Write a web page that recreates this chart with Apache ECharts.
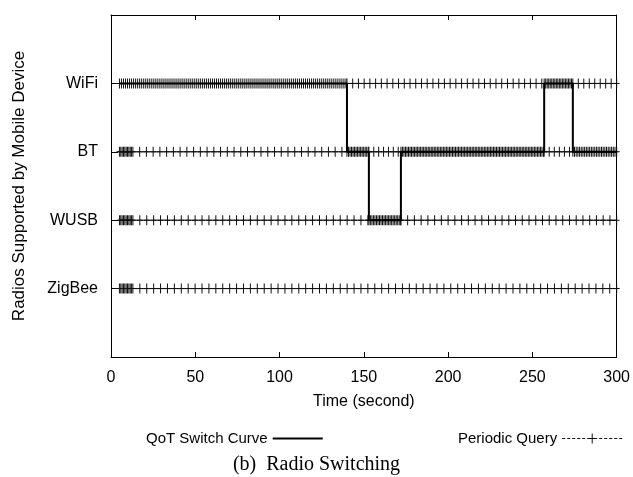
<!DOCTYPE html>
<html>
<head>
<meta charset="utf-8">
<script src="https://cdn.jsdelivr.net/npm/echarts@6/dist/echarts.min.js"></script>
<style>
  html, body { margin: 0; padding: 0; background: #fff; }
  #chart { width: 633px; height: 477px; }
</style>
</head>
<body>
<div id="chart"></div>
<script>
// Radio levels on the y axis (1 = ZigBee ... 4 = WiFi)
const radioLabels = ['', 'ZigBee', 'WUSB', 'BT', 'WiFi', ''];

// Time ticks along the x axis (seconds)
const timeTicks = [0, 50, 100, 150, 200, 250, 300];

// Radio chosen by the QoT switch: [time (s), level]; level holds until the next entry
const switchCurve = [
  [5, 4], [140, 3], [153, 2], [172, 3], [257, 4], [274, 3], [300, 3]
];

// Periodic query schedule of each radio: [from (s), to (s), query period (s)]
const zigbeeQueries = [[5, 13, 0.8], [13, 300.5, 4.1]];
const wusbQueries = [[5, 13, 0.8], [13, 153, 4.1], [153, 172, 0.9], [172, 300.5, 4.0]];
const btQueries = [[5, 13, 0.8], [13, 140, 4.0], [140, 153, 0.9], [153, 172, 2.9],
                   [172, 257, 0.9], [257, 274, 3.0], [274, 300.5, 1.0]];
const wifiQueries = [[5, 140, 1.2], [140, 257, 3.4], [257, 274, 0.9], [274, 300.5, 3.25]];

// Expand a query schedule into the query instants on one radio level
function queryPoints(schedule, level) {
  const pts = [];
  schedule.forEach(([from, to, step]) => {
    for (let i = 0; from + i * step < to; i++) {
      pts.push([Math.min(+(from + i * step).toFixed(2), 300), level]);
    }
  });
  return pts;
}

const plusMark = 'path://M0,4.5H6V5.5H0Z M2.5,0H3.5V10H2.5Z';
const dashedPlusIcon = 'path://M0,4.5h3v1h-3z M5,4.5h3v1h-3z M10,4.5h3v1h-3z M15,4.5h3v1h-3z ' +
  'M20,4.5h3v1h-3z M25,4.5h10v1h-10z M29.5,0h1v10h-1z M37,4.5h3v1h-3z M42,4.5h3v1h-3z ' +
  'M47,4.5h3v1h-3z M52,4.5h3v1h-3z M57,4.5h3v1h-3z';

const FONT = 'Liberation Sans, Arial, Helvetica, sans-serif';

function querySeries(schedule, level) {
  return {
    name: 'Periodic Query',
    type: 'line',
    data: queryPoints(schedule, level),
    symbol: plusMark,
    symbolSize: [6, 10],
    showAllSymbol: true,
    lineStyle: { color: '#000', width: 1 },
    itemStyle: { color: '#111' },
    z: 2,
    silent: true
  };
}

const chart = echarts.init(document.getElementById('chart'), null, { renderer: 'canvas' });

const axisLineStyle = { show: true, onZero: false, lineStyle: { color: '#000', width: 1 } };

chart.setOption({
  animation: false,
  backgroundColor: '#fff',
  textStyle: { fontFamily: FONT },
  title: {
    text: '(b)  Radio Switching',
    left: 'center',
    top: 450,
    textStyle: { fontFamily: 'Liberation Serif, Times New Roman, serif', fontSize: 20, fontWeight: 'normal', color: '#000' }
  },
  grid: { left: 111, right: 16, top: 15, bottom: 120 },
  legend: [
    {
      data: [{ name: 'QoT Switch Curve', icon: 'rect' }],
      left: 141, top: 426,
      align: 'right',
      itemWidth: 50, itemHeight: 2,
      textStyle: { fontFamily: FONT, fontSize: 15, color: '#000' },
      selectedMode: false
    },
    {
      data: [{ name: 'Periodic Query', icon: dashedPlusIcon }],
      left: 453, top: 426,
      align: 'right',
      itemWidth: 60, itemHeight: 10,
      textStyle: { fontFamily: FONT, fontSize: 15, color: '#000' },
      selectedMode: false
    }
  ],
  xAxis: [
    {
      type: 'value', min: timeTicks[0], max: timeTicks[timeTicks.length - 1], interval: 50,
      position: 'bottom',
      name: 'Time (second)', nameLocation: 'middle', nameGap: 37,
      nameTextStyle: { fontFamily: FONT, fontSize: 16, color: '#000' },
      axisLine: axisLineStyle,
      axisTick: { show: true, inside: true, length: 5, lineStyle: { color: '#000' } },
      axisLabel: { fontFamily: FONT, fontSize: 16, color: '#000', margin: 13 },
      splitLine: { show: false }
    },
    {
      type: 'value', min: timeTicks[0], max: timeTicks[timeTicks.length - 1], interval: 50,
      position: 'top',
      axisLine: axisLineStyle,
      axisTick: { show: true, inside: true, length: 5, lineStyle: { color: '#000' } },
      axisLabel: { show: false },
      splitLine: { show: false }
    }
  ],
  yAxis: [
    {
      type: 'value', min: 0, max: 5, interval: 1,
      position: 'left',
      name: 'Radios Supported by Mobile Device', nameLocation: 'middle', nameGap: 83,
      nameTextStyle: { fontFamily: FONT, fontSize: 17, color: '#000' },
      axisLine: axisLineStyle,
      axisTick: { show: true, inside: true, length: 7, lineStyle: { color: '#000' } },
      axisLabel: {
        fontFamily: FONT, fontSize: 16, color: '#000', margin: 13,
        formatter: v => radioLabels[v] || ''
      },
      splitLine: { show: false }
    },
    {
      type: 'value', min: 0, max: 5, interval: 1,
      position: 'right',
      axisLine: axisLineStyle,
      axisTick: { show: true, inside: true, length: 7, lineStyle: { color: '#000' } },
      axisLabel: { show: false },
      splitLine: { show: false }
    }
  ],
  series: [
    querySeries(zigbeeQueries, 1),
    querySeries(wusbQueries, 2),
    querySeries(btQueries, 3),
    querySeries(wifiQueries, 4),
    {
      name: 'QoT Switch Curve',
      type: 'line',
      step: 'end',
      data: switchCurve,
      showSymbol: false,
      symbol: 'none',
      lineStyle: { color: '#000', width: 2 },
      itemStyle: { color: '#000' },
      z: 3,
      silent: true
    }
  ]
});
</script>
</body>
</html>
